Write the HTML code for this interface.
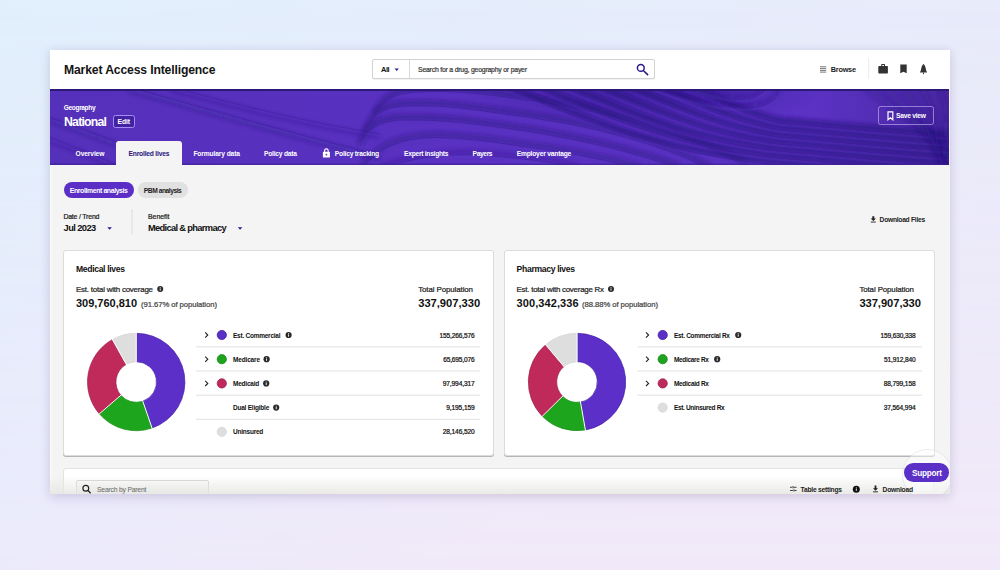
<!DOCTYPE html>
<html><head><meta charset="utf-8"><title>Market Access Intelligence</title>
<style>
html,body{margin:0;padding:0;}
body{width:1000px;height:570px;overflow:hidden;position:relative;font-family:"Liberation Sans",sans-serif;
 background:linear-gradient(to right,#e1effc,#e8ebfa);}
.bgb{position:absolute;left:0;top:0;width:1000px;height:570px;background:linear-gradient(to right,#ebeafb,#f1e9f9 50%,#f1e9f9);-webkit-mask-image:linear-gradient(to bottom,transparent,#000);mask-image:linear-gradient(to bottom,transparent,#000);}
.t{position:absolute;white-space:nowrap;font-family:"Liberation Sans",sans-serif;}
.a{position:absolute;box-sizing:border-box;}

</style></head><body>
<div class='bgb'></div>
<div class='a' style='left:50px;top:50px;width:900px;height:444px;background:#f4f4f4;box-shadow:0 4px 10px rgba(110,80,130,.16),0 0 8px rgba(90,100,150,.10);'></div>
<div class='a' style='left:50px;top:165px;width:3px;height:329px;background:linear-gradient(to right,#fbfbfc,#f4f4f4);'></div>
<div class='a' style='left:50px;top:50px;width:900px;height:39px;background:#fff;'></div>
<div class='a' style='left:372px;top:59px;width:282.5px;height:20px;border:1px solid #d2d2d2;border-radius:2px;background:#fff;box-shadow:0 1px 1px rgba(0,0,0,.06)'></div>
<div class='a' style='left:408.5px;top:60px;width:1px;height:18px;background:#dadada;'></div>
<svg class='a' style='left:0;top:0' width='1000' height='570' viewBox='0 0 1000 570'><path d='M394.6,68.6 L398.8,68.6 L396.7,71 Z' fill='#2b1a8c'/><circle cx='640.8' cy='67.9' r='3.4' fill='none' stroke='#2b1a8c' stroke-width='1.5'/><path d='M643.3,70.5 L647.6,74.6' stroke='#2b1a8c' stroke-width='1.6' stroke-linecap='round'/><g fill='#777'><rect x='820' y='66.3' width='6.2' height='1'/><rect x='820' y='68.1' width='6.2' height='1'/><rect x='820' y='69.9' width='6.2' height='1'/><rect x='820' y='71.6' width='6.2' height='1'/></g><rect x='868.2' y='58' width='1' height='21' fill='#ececec'/><g fill='#333'><rect x='878.3' y='66' width='9.6' height='7.5' rx='0.8'/><path d='M881.2,66 V64.6 Q881.2,64 881.8,64 H884.4 Q885,64 885,64.6 V66 H884 V65 H882.2 V66 Z'/></g><path d='M900.3,64.6 H906.7 V73.2 L903.5,71.8 L900.3,73.2 Z' fill='#333'/><path d='M923.5,64 Q922.5,64.5 921.6,67 L920.8,70.6 L919.9,72.6 H927.1 L926.2,70.6 L925.4,67 Q924.5,64.5 923.5,64 Z' fill='#333'/><rect x='923' y='72.6' width='1' height='1.6' fill='#333'/></svg>
<div class='a' style='left:50px;top:89px;width:899px;height:76px;background:#5a30c0;overflow:hidden;'><svg width='899' height='76' viewBox='0 0 899 76' style='position:absolute;left:0;top:0'><defs><linearGradient id='bg1' x1='0' y1='0' x2='1' y2='0'><stop offset='0' stop-color='#5530ba'/><stop offset='0.45' stop-color='#5a31c2'/><stop offset='0.85' stop-color='#5b32c4'/><stop offset='1' stop-color='#4a28a2'/></linearGradient><radialGradient id='bg2r'><stop offset='0' stop-color='#24107a' stop-opacity='.5'/><stop offset='1' stop-color='#2a1280' stop-opacity='0'/></radialGradient><filter id='bl1' x='-10%' y='-50%' width='120%' height='200%'><feGaussianBlur stdDeviation='0.8'/></filter><filter id='bl2' x='-10%' y='-50%' width='120%' height='200%'><feGaussianBlur stdDeviation='2'/></filter><filter id='bl3' x='-10%' y='-50%' width='120%' height='200%'><feGaussianBlur stdDeviation='3'/></filter></defs><rect width='899' height='76' fill='url(#bg1)'/><ellipse cx='590' cy='0' rx='190' ry='40' fill='url(#bg2r)'/><g fill='none'><path d='M79,-2 C150,18 240,44 330,66' stroke='#2a1280' stroke-width='5' stroke-opacity='0.38' filter='url(#bl2)' transform='translate(0,3)'/><path d='M79,-2 C150,18 240,44 330,66' stroke='#341a8c' stroke-width='0.9' stroke-opacity='0.55'/><path d='M79,-2 C150,18 240,44 330,66' stroke='#6a44d8' stroke-width='2' stroke-opacity='0.3' transform='translate(0,1.6)' filter='url(#bl1)'/><path d='M120,-2 C190,16 250,32 330,45' stroke='#2a1280' stroke-width='5' stroke-opacity='0.3' filter='url(#bl2)' transform='translate(0,3)'/><path d='M120,-2 C190,16 250,32 330,45' stroke='#341a8c' stroke-width='0.9' stroke-opacity='0.55'/><path d='M120,-2 C190,16 250,32 330,45' stroke='#6a44d8' stroke-width='2' stroke-opacity='0.3' transform='translate(0,1.6)' filter='url(#bl1)'/><path d='M-5,27 C40,42 90,62 135,80' stroke='#2a1280' stroke-width='5' stroke-opacity='0.35' filter='url(#bl2)' transform='translate(0,3)'/><path d='M-5,27 C40,42 90,62 135,80' stroke='#341a8c' stroke-width='0.9' stroke-opacity='0.55'/><path d='M-5,27 C40,42 90,62 135,80' stroke='#6a44d8' stroke-width='2' stroke-opacity='0.3' transform='translate(0,1.6)' filter='url(#bl1)'/><path d='M-5,47 C20,56 50,68 75,80' stroke='#2a1280' stroke-width='5' stroke-opacity='0.3' filter='url(#bl2)' transform='translate(0,3)'/><path d='M-5,47 C20,56 50,68 75,80' stroke='#341a8c' stroke-width='0.9' stroke-opacity='0.55'/><path d='M-5,47 C20,56 50,68 75,80' stroke='#6a44d8' stroke-width='2' stroke-opacity='0.3' transform='translate(0,1.6)' filter='url(#bl1)'/><path d='M325,27 C332,12 342,5 365,3 C400,1 430,4 470,10 C560,22 640,45 700,80' stroke='#2a1280' stroke-width='6' stroke-opacity='0.5' filter='url(#bl2)' transform='translate(0,-3)'/><path d='M325,27 C332,12 342,5 365,3 C400,1 430,4 470,10 C560,22 640,45 700,80' stroke='#341a8c' stroke-width='0.9' stroke-opacity='0.55'/><path d='M325,27 C332,12 342,5 365,3 C400,1 430,4 470,10 C560,22 640,45 700,80' stroke='#6a44d8' stroke-width='2' stroke-opacity='0.3' transform='translate(0,1.6)' filter='url(#bl1)'/><path d='M315,44 C322,28 330,18.5 355,17 C400,15 430,22 470,27 C550,38 610,55 660,80' stroke='#2a1280' stroke-width='6' stroke-opacity='0.5' filter='url(#bl2)' transform='translate(0,-3)'/><path d='M315,44 C322,28 330,18.5 355,17 C400,15 430,22 470,27 C550,38 610,55 660,80' stroke='#341a8c' stroke-width='0.9' stroke-opacity='0.55'/><path d='M315,44 C322,28 330,18.5 355,17 C400,15 430,22 470,27 C550,38 610,55 660,80' stroke='#6a44d8' stroke-width='2' stroke-opacity='0.3' transform='translate(0,1.6)' filter='url(#bl1)'/><path d='M310,58 C316,42 324,33 350,31 C400,30 430,36 470,41 C540,52 590,65 630,80' stroke='#2a1280' stroke-width='6' stroke-opacity='0.5' filter='url(#bl2)' transform='translate(0,-3)'/><path d='M310,58 C316,42 324,33 350,31 C400,30 430,36 470,41 C540,52 590,65 630,80' stroke='#341a8c' stroke-width='0.9' stroke-opacity='0.55'/><path d='M310,58 C316,42 324,33 350,31 C400,30 430,36 470,41 C540,52 590,65 630,80' stroke='#6a44d8' stroke-width='2' stroke-opacity='0.3' transform='translate(0,1.6)' filter='url(#bl1)'/><path d='M312,80 C330,58 350,48 390,48.5 C430,50 450,54 470,57 C520,63 560,72 590,80' stroke='#2a1280' stroke-width='6' stroke-opacity='0.45' filter='url(#bl2)' transform='translate(0,-3)'/><path d='M312,80 C330,58 350,48 390,48.5 C430,50 450,54 470,57 C520,63 560,72 590,80' stroke='#341a8c' stroke-width='0.9' stroke-opacity='0.55'/><path d='M312,80 C330,58 350,48 390,48.5 C430,50 450,54 470,57 C520,63 560,72 590,80' stroke='#6a44d8' stroke-width='2' stroke-opacity='0.3' transform='translate(0,1.6)' filter='url(#bl1)'/><path d='M330,80 C360,70 390,64 430,66 C480,70 510,74 530,80' stroke='#2a1280' stroke-width='5' stroke-opacity='0.3' filter='url(#bl2)' transform='translate(0,-3)'/><path d='M330,80 C360,70 390,64 430,66 C480,70 510,74 530,80' stroke='#341a8c' stroke-width='0.9' stroke-opacity='0.55'/><path d='M330,80 C360,70 390,64 430,66 C480,70 510,74 530,80' stroke='#6a44d8' stroke-width='2' stroke-opacity='0.3' transform='translate(0,1.6)' filter='url(#bl1)'/><path d='M450,-2 C500,14 590,64 730,76 C780,80 840,86 899,90' stroke='#2a1280' stroke-width='6' stroke-opacity='0.7' filter='url(#bl2)' transform='translate(0,-3)'/><path d='M450,-2 C500,14 590,64 730,76 C780,80 840,86 899,90' stroke='#341a8c' stroke-width='0.9' stroke-opacity='0.7'/><path d='M450,-2 C500,14 590,64 730,76 C780,80 840,86 899,90' stroke='#6a44d8' stroke-width='2' stroke-opacity='0.3' transform='translate(0,1.6)' filter='url(#bl1)'/><path d='M480,-2 C530,14 605,57 730,69 C780,73 840,79 899,83' stroke='#2a1280' stroke-width='6' stroke-opacity='0.7' filter='url(#bl2)' transform='translate(0,-3)'/><path d='M480,-2 C530,14 605,57 730,69 C780,73 840,79 899,83' stroke='#341a8c' stroke-width='0.9' stroke-opacity='0.7'/><path d='M480,-2 C530,14 605,57 730,69 C780,73 840,79 899,83' stroke='#6a44d8' stroke-width='2' stroke-opacity='0.3' transform='translate(0,1.6)' filter='url(#bl1)'/><path d='M510,-2 C560,14 620,50 730,62 C780,66 840,72 899,76' stroke='#2a1280' stroke-width='6' stroke-opacity='0.7' filter='url(#bl2)' transform='translate(0,-3)'/><path d='M510,-2 C560,14 620,50 730,62 C780,66 840,72 899,76' stroke='#341a8c' stroke-width='0.9' stroke-opacity='0.7'/><path d='M510,-2 C560,14 620,50 730,62 C780,66 840,72 899,76' stroke='#6a44d8' stroke-width='2' stroke-opacity='0.3' transform='translate(0,1.6)' filter='url(#bl1)'/><path d='M540,-2 C590,14 635,43 730,55 C780,59 840,65 899,69' stroke='#2a1280' stroke-width='6' stroke-opacity='0.7' filter='url(#bl2)' transform='translate(0,-3)'/><path d='M540,-2 C590,14 635,43 730,55 C780,59 840,65 899,69' stroke='#341a8c' stroke-width='0.9' stroke-opacity='0.7'/><path d='M540,-2 C590,14 635,43 730,55 C780,59 840,65 899,69' stroke='#6a44d8' stroke-width='2' stroke-opacity='0.3' transform='translate(0,1.6)' filter='url(#bl1)'/><path d='M570,-2 C620,14 650,36 730,48 C780,52 840,58 899,62' stroke='#2a1280' stroke-width='6' stroke-opacity='0.7' filter='url(#bl2)' transform='translate(0,-3)'/><path d='M570,-2 C620,14 650,36 730,48 C780,52 840,58 899,62' stroke='#341a8c' stroke-width='0.9' stroke-opacity='0.7'/><path d='M570,-2 C620,14 650,36 730,48 C780,52 840,58 899,62' stroke='#6a44d8' stroke-width='2' stroke-opacity='0.3' transform='translate(0,1.6)' filter='url(#bl1)'/><path d='M600,-2 C650,14 665,29 730,41 C780,45 840,51 899,55' stroke='#2a1280' stroke-width='6' stroke-opacity='0.7' filter='url(#bl2)' transform='translate(0,-3)'/><path d='M600,-2 C650,14 665,29 730,41 C780,45 840,51 899,55' stroke='#341a8c' stroke-width='0.9' stroke-opacity='0.7'/><path d='M600,-2 C650,14 665,29 730,41 C780,45 840,51 899,55' stroke='#6a44d8' stroke-width='2' stroke-opacity='0.3' transform='translate(0,1.6)' filter='url(#bl1)'/><path d='M630,-2 C680,14 680,22 730,34 C780,38 840,44 899,48' stroke='#2a1280' stroke-width='6' stroke-opacity='0.7' filter='url(#bl2)' transform='translate(0,-3)'/><path d='M630,-2 C680,14 680,22 730,34 C780,38 840,44 899,48' stroke='#341a8c' stroke-width='0.9' stroke-opacity='0.7'/><path d='M630,-2 C680,14 680,22 730,34 C780,38 840,44 899,48' stroke='#6a44d8' stroke-width='2' stroke-opacity='0.3' transform='translate(0,1.6)' filter='url(#bl1)'/><path d='M640,-2 C665,8 690,14 705,8 C712,5 716,1 718,-2' stroke='#2a1280' stroke-width='4' stroke-opacity='0.4' filter='url(#bl2)' transform='translate(0,-3)'/><path d='M640,-2 C665,8 690,14 705,8 C712,5 716,1 718,-2' stroke='#341a8c' stroke-width='0.9' stroke-opacity='0.55'/><path d='M640,-2 C665,8 690,14 705,8 C712,5 716,1 718,-2' stroke='#6a44d8' stroke-width='2' stroke-opacity='0.3' transform='translate(0,1.6)' filter='url(#bl1)'/><path d='M600,-2 C640,14 690,24 715,16 C725,12 730,5 732,-2' stroke='#2a1280' stroke-width='4' stroke-opacity='0.4' filter='url(#bl2)' transform='translate(0,-3)'/><path d='M600,-2 C640,14 690,24 715,16 C725,12 730,5 732,-2' stroke='#341a8c' stroke-width='0.9' stroke-opacity='0.55'/><path d='M600,-2 C640,14 690,24 715,16 C725,12 730,5 732,-2' stroke='#6a44d8' stroke-width='2' stroke-opacity='0.3' transform='translate(0,1.6)' filter='url(#bl1)'/><path d='M815,-2 C845,20 880,45 905,60' stroke='#2a1480' stroke-width='5' stroke-opacity='.4' filter='url(#bl3)'/><path d='M833,-2 C861,20 880,55 905,74' stroke='#2a1480' stroke-width='5' stroke-opacity='.4' filter='url(#bl3)'/><path d='M851,-2 C877,20 880,65 905,88' stroke='#2a1480' stroke-width='5' stroke-opacity='.4' filter='url(#bl3)'/><path d='M869,-2 C893,20 880,75 905,102' stroke='#2a1480' stroke-width='5' stroke-opacity='.4' filter='url(#bl3)'/><path d='M887,-2 C909,20 880,85 905,116' stroke='#2a1480' stroke-width='5' stroke-opacity='.4' filter='url(#bl3)'/></g><rect width='899' height='2' fill='#2c1877'/><rect y='74.5' width='899' height='1.5' fill='#3a2091' fill-opacity='.6'/></svg></div>
<div class='a' style='left:112.8px;top:115.3px;width:22.4px;height:12.4px;border:1.2px solid #a98cf3;border-radius:2.5px;background:#4321a3;'></div>
<div class='a' style='left:877.5px;top:106px;width:56.3px;height:18.8px;border:1px solid rgba(215,200,255,.55);border-radius:2.5px;'></div>
<svg class='a' style='left:887px;top:111px' width='7' height='10' viewBox='0 0 7 10'><path d='M1,0.8 H5.8 V8.8 L3.4,6.8 L1,8.8 Z' fill='none' stroke='#fff' stroke-width='1.2'/></svg>
<div class='a' style='left:116.4px;top:141px;width:65.2px;height:24.5px;background:#f4f4f4;border-radius:3px 3px 0 0;'></div>
<svg class='a' style='left:322px;top:148px' width='9' height='10' viewBox='0 0 9 10'><path d='M2.6,4 V2.8 Q2.6,0.9 4.4,0.9 Q6.2,0.9 6.2,2.8 V4' fill='none' stroke='#fff' stroke-width='1.1'/><rect x='0.9' y='3.8' width='7' height='5.8' rx='0.6' fill='#fff'/><circle cx='4.4' cy='6.6' r='0.9' fill='#5a30c0'/></svg>
<div class='a' style='left:63.5px;top:182px;width:70.5px;height:15.8px;background:#5b2fc6;border-radius:8px;'></div>
<div class='a' style='left:137.5px;top:182px;width:50.7px;height:15.8px;background:#e1e1e1;border-radius:8px;'></div>
<svg class='a' style='left:0;top:0' width='1000' height='570' viewBox='0 0 1000 570'><rect x='131.6' y='209' width='1' height='25' fill='#dcdcdc'/><path d='M107.3,227.2 L111.9,227.2 L109.6,229.8 Z' fill='#2b1a8c'/><path d='M237.8,227.2 L242.4,227.2 L240.1,229.8 Z' fill='#2b1a8c'/><g fill='#222'><path d='M872.3,216.2 H874.3 V218.6 H876 L873.3,221 L870.6,218.6 H872.3 Z'/><rect x='870.8' y='221.6' width='5' height='0.9'/></g></svg>
<div class='a' style='left:63px;top:250px;width:430.5px;height:206px;background:#fff;border:1px solid #dcdcdc;border-radius:3px;box-shadow:0 1px 0.6px rgba(0,0,0,.26);'></div>
<div class='a' style='left:504px;top:250px;width:430.5px;height:206px;background:#fff;border:1px solid #dcdcdc;border-radius:3px;box-shadow:0 1px 0.6px rgba(0,0,0,.26);'></div>
<div class='a' style='left:50px;top:50px;width:900px;height:444px;overflow:hidden;'><div class='a' style='left:13px;top:418px;width:871px;height:60px;background:#fff;border:1px solid #e3e3e3;border-radius:3px;'></div><div class='a' style='left:25.6px;top:430px;width:133px;height:30px;background:linear-gradient(#fdfdfd,#f0f0f0 60%);border:1px solid #d3d3d3;border-radius:2px;'></div><div class='a' style='left:0;top:426px;width:900px;height:18px;background:linear-gradient(rgba(235,235,232,0),rgba(230,230,226,.85));'></div></div>
<svg class='a' style='left:0;top:0' width='1000' height='570' viewBox='0 0 1000 570'><circle cx='160.2' cy='289' r='3.0' fill='#2a2a2a'/><rect x='159.75' y='288.40' width='0.9' height='2.2' fill='#fff'/><rect x='159.75' y='287.20' width='0.9' height='0.8' fill='#fff'/><circle cx='611' cy='289' r='3.0' fill='#2a2a2a'/><rect x='610.55' y='288.40' width='0.9' height='2.2' fill='#fff'/><rect x='610.55' y='287.20' width='0.9' height='0.8' fill='#fff'/><path d='M136.20,333.30 A48.7,48.7 0 0 1 152.03,428.06 L142.80,401.20 A20.3,20.3 0 0 0 136.20,361.70 Z' fill='#5b2fc8' stroke='#4220a8' stroke-width='0.7'/><path d='M152.03,428.06 A48.7,48.7 0 0 1 99.35,413.84 L120.84,395.27 A20.3,20.3 0 0 0 142.80,401.20 Z' fill='#1ea51e' stroke='#168c16' stroke-width='0.7'/><path d='M99.35,413.84 A48.7,48.7 0 0 1 112.45,339.49 L126.30,364.28 A20.3,20.3 0 0 0 120.84,395.27 Z' fill='#c02a5a' stroke='#a01f49' stroke-width='0.7'/><path d='M112.45,339.49 A48.7,48.7 0 0 1 136.20,333.30 L136.20,361.70 A20.3,20.3 0 0 0 126.30,364.28 Z' fill='#dedede' stroke='#d2d2d2' stroke-width='0.7'/><line x1='136.20' y1='363.00' x2='136.20' y2='332.00' stroke='#fff' stroke-width='1'/><line x1='142.37' y1='399.97' x2='152.45' y2='429.29' stroke='#fff' stroke-width='1'/><line x1='121.82' y1='394.42' x2='98.37' y2='414.69' stroke='#fff' stroke-width='1'/><line x1='126.93' y1='365.41' x2='111.81' y2='338.35' stroke='#fff' stroke-width='1'/><path d='M577.00,333.30 A48.7,48.7 0 0 1 585.40,429.97 L580.50,402.00 A20.3,20.3 0 0 0 577.00,361.70 Z' fill='#5b2fc8' stroke='#4220a8' stroke-width='0.7'/><path d='M585.40,429.97 A48.7,48.7 0 0 1 542.34,416.21 L562.55,396.26 A20.3,20.3 0 0 0 580.50,402.00 Z' fill='#1ea51e' stroke='#168c16' stroke-width='0.7'/><path d='M542.34,416.21 A48.7,48.7 0 0 1 545.68,344.71 L563.95,366.45 A20.3,20.3 0 0 0 562.55,396.26 Z' fill='#c02a5a' stroke='#a01f49' stroke-width='0.7'/><path d='M545.68,344.71 A48.7,48.7 0 0 1 577.00,333.30 L577.00,361.70 A20.3,20.3 0 0 0 563.95,366.45 Z' fill='#dedede' stroke='#d2d2d2' stroke-width='0.7'/><line x1='577.00' y1='363.00' x2='577.00' y2='332.00' stroke='#fff' stroke-width='1'/><line x1='580.28' y1='400.72' x2='585.62' y2='431.25' stroke='#fff' stroke-width='1'/><line x1='563.48' y1='395.35' x2='541.41' y2='417.12' stroke='#fff' stroke-width='1'/><line x1='564.78' y1='367.45' x2='544.85' y2='343.71' stroke='#fff' stroke-width='1'/><rect x='196' y='346.20' width='284' height='1.2' fill='#e6e6e6'/><rect x='196' y='370.40' width='284' height='1.2' fill='#e6e6e6'/><rect x='196' y='394.60' width='284' height='1.2' fill='#e6e6e6'/><rect x='196' y='418.80' width='284' height='1.2' fill='#e6e6e6'/><path d='M205.2,332.40 L207.8,335.00 L205.2,337.60' fill='none' stroke='#222' stroke-width='1.1'/><circle cx='221.8' cy='335.00' r='4.6' fill='#5b30c6' stroke='#40209f' stroke-width='0.8'/><circle cx='288.6' cy='335.0' r='3.1' fill='#2a2a2a'/><rect x='288.15' y='334.40' width='0.9' height='2.2' fill='#fff'/><rect x='288.15' y='333.20' width='0.9' height='0.8' fill='#fff'/><path d='M205.2,356.60 L207.8,359.20 L205.2,361.80' fill='none' stroke='#222' stroke-width='1.1'/><circle cx='221.8' cy='359.20' r='4.6' fill='#1fa31f' stroke='#178a17' stroke-width='0.8'/><circle cx='266.6' cy='359.2' r='3.1' fill='#2a2a2a'/><rect x='266.15' y='358.60' width='0.9' height='2.2' fill='#fff'/><rect x='266.15' y='357.40' width='0.9' height='0.8' fill='#fff'/><path d='M205.2,380.80 L207.8,383.40 L205.2,386.00' fill='none' stroke='#222' stroke-width='1.1'/><circle cx='221.8' cy='383.40' r='4.6' fill='#bf2a5a' stroke='#9c1f47' stroke-width='0.8'/><circle cx='266.2' cy='383.4' r='3.1' fill='#2a2a2a'/><rect x='265.75' y='382.80' width='0.9' height='2.2' fill='#fff'/><rect x='265.75' y='381.60' width='0.9' height='0.8' fill='#fff'/><circle cx='276.2' cy='407.6' r='3.1' fill='#2a2a2a'/><rect x='275.75' y='407.00' width='0.9' height='2.2' fill='#fff'/><rect x='275.75' y='405.80' width='0.9' height='0.8' fill='#fff'/><circle cx='221.8' cy='431.80' r='4.6' fill='#dedede' stroke='#d6d6d6' stroke-width='0.8'/><rect x='637.4' y='346.20' width='284.6' height='1.2' fill='#e6e6e6'/><rect x='637.4' y='370.40' width='284.6' height='1.2' fill='#e6e6e6'/><rect x='637.4' y='394.60' width='284.6' height='1.2' fill='#e6e6e6'/><path d='M646.0,332.40 L648.6,335.00 L646.0,337.60' fill='none' stroke='#222' stroke-width='1.1'/><circle cx='662.7' cy='335.00' r='4.6' fill='#5b30c6' stroke='#40209f' stroke-width='0.8'/><circle cx='738.2' cy='335.0' r='3.1' fill='#2a2a2a'/><rect x='737.75' y='334.40' width='0.9' height='2.2' fill='#fff'/><rect x='737.75' y='333.20' width='0.9' height='0.8' fill='#fff'/><path d='M646.0,356.60 L648.6,359.20 L646.0,361.80' fill='none' stroke='#222' stroke-width='1.1'/><circle cx='662.7' cy='359.20' r='4.6' fill='#1fa31f' stroke='#178a17' stroke-width='0.8'/><circle cx='717.2' cy='359.2' r='3.1' fill='#2a2a2a'/><rect x='716.75' y='358.60' width='0.9' height='2.2' fill='#fff'/><rect x='716.75' y='357.40' width='0.9' height='0.8' fill='#fff'/><path d='M646.0,380.80 L648.6,383.40 L646.0,386.00' fill='none' stroke='#222' stroke-width='1.1'/><circle cx='662.7' cy='383.40' r='4.6' fill='#bf2a5a' stroke='#9c1f47' stroke-width='0.8'/><circle cx='662.7' cy='407.60' r='4.6' fill='#dedede' stroke='#d6d6d6' stroke-width='0.8'/><g><circle cx='85.8' cy='488.2' r='2.9' fill='none' stroke='#222' stroke-width='1.2'/><path d='M87.8,490.3 L90.6,493.2' stroke='#222' stroke-width='1.3'/></g><g fill='#333'><rect x='790' y='486.8' width='2.2' height='0.9'/><rect x='793.6' y='486.8' width='3' height='0.9'/><rect x='790' y='490' width='3.2' height='0.9'/><rect x='794.6' y='490' width='2' height='0.9'/><rect x='792.6' y='486' width='0.9' height='2.4'/><rect x='793.6' y='489.2' width='0.9' height='2.4'/></g><circle cx='856.3' cy='489.2' r='3.5' fill='#111'/><rect x='855.85' y='488.60' width='0.9' height='2.2' fill='#fff'/><rect x='855.85' y='487.40' width='0.9' height='0.8' fill='#fff'/><g fill='#222'><path d='M874.6,485.4 H876.4 V488.2 H878 L875.5,490.8 L873,488.2 H874.6 Z'/><rect x='873' y='491.4' width='5' height='0.9'/></g></svg>
<div class='a' style='left:50px;top:50px;width:900px;height:444px;overflow:hidden;'><div class='a' style='left:852px;top:399px;width:51px;height:51px;border-radius:50%;background:rgba(255,255,255,.45);border:1px solid rgba(170,170,190,.22);'></div></div>
<div class='a' style='left:904px;top:463px;width:45.4px;height:18.6px;background:#5b30c6;border-radius:9.3px;'></div>
<div class='t' style='top:63.50px;font-size:12.2px;font-weight:700;color:#141414;line-height:12.2px;letter-spacing:-0.154px;left:64.00px;'>Market Access Intelligence</div>
<div class='t' style='top:66.40px;font-size:7.4px;font-weight:700;color:#111;line-height:7.4px;letter-spacing:-0.427px;left:381.00px;'>All</div>
<div class='t' style='top:67.40px;font-size:6.9px;font-weight:400;color:#3a3a3a;line-height:6.9px;letter-spacing:-0.217px;-webkit-text-stroke:0.22px #3a3a3a;left:418.00px;'>Search for a drug, geography or payer</div>
<div class='t' style='top:66.00px;font-size:7.3px;font-weight:700;color:#222;line-height:7.3px;letter-spacing:-0.232px;left:830.80px;'>Browse</div>
<div class='t' style='top:105.20px;font-size:6.6px;font-weight:700;color:#fff;line-height:6.6px;letter-spacing:-0.377px;left:63.80px;'>Geography</div>
<div class='t' style='top:116.00px;font-size:12.3px;font-weight:700;color:#fff;line-height:12.3px;letter-spacing:-0.788px;left:64.00px;'>National</div>
<div class='t' style='top:119.30px;font-size:6.8px;font-weight:700;color:#fff;line-height:6.8px;letter-spacing:-0.148px;left:117.60px;'>Edit</div>
<div class='t' style='top:151.20px;font-size:6.7px;font-weight:700;color:#fff;line-height:6.7px;letter-spacing:-0.136px;left:75.60px;'>Overview</div>
<div class='t' style='top:151.20px;font-size:6.7px;font-weight:700;color:#26137a;line-height:6.7px;letter-spacing:-0.208px;left:128.60px;'>Enrolled lives</div>
<div class='t' style='top:151.20px;font-size:6.7px;font-weight:700;color:#fff;line-height:6.7px;letter-spacing:-0.132px;left:193.40px;'>Formulary data</div>
<div class='t' style='top:151.20px;font-size:6.7px;font-weight:700;color:#fff;line-height:6.7px;letter-spacing:-0.231px;left:264.00px;'>Policy data</div>
<div class='t' style='top:151.20px;font-size:6.7px;font-weight:700;color:#fff;line-height:6.7px;letter-spacing:-0.227px;left:334.80px;'>Policy tracking</div>
<div class='t' style='top:151.20px;font-size:6.7px;font-weight:700;color:#fff;line-height:6.7px;letter-spacing:-0.272px;left:404.00px;'>Expert insights</div>
<div class='t' style='top:151.20px;font-size:6.7px;font-weight:700;color:#fff;line-height:6.7px;letter-spacing:-0.391px;left:472.60px;'>Payers</div>
<div class='t' style='top:151.20px;font-size:6.7px;font-weight:700;color:#fff;line-height:6.7px;letter-spacing:-0.201px;left:516.70px;'>Employer vantage</div>
<div class='t' style='top:113.00px;font-size:6.7px;font-weight:700;color:#fff;line-height:6.7px;letter-spacing:-0.248px;left:896.00px;'>Save view</div>
<div class='t' style='top:187.70px;font-size:6.9px;font-weight:700;color:#fff;line-height:6.9px;letter-spacing:-0.389px;left:69.80px;'>Enrollment analysis</div>
<div class='t' style='top:187.70px;font-size:6.7px;font-weight:700;color:#222;line-height:6.7px;letter-spacing:-0.466px;left:143.80px;'>PBM analysis</div>
<div class='t' style='top:214.00px;font-size:6.9px;font-weight:400;color:#222;line-height:6.9px;letter-spacing:-0.175px;-webkit-text-stroke:0.22px #222;left:63.40px;'>Date / Trend</div>
<div class='t' style='top:214.00px;font-size:6.9px;font-weight:400;color:#222;line-height:6.9px;letter-spacing:-0.009px;-webkit-text-stroke:0.22px #222;left:148.00px;'>Benefit</div>
<div class='t' style='top:224.20px;font-size:9.3px;font-weight:700;color:#111;line-height:9.3px;letter-spacing:-0.586px;left:63.60px;'>Jul 2023</div>
<div class='t' style='top:224.20px;font-size:9.3px;font-weight:700;color:#111;line-height:9.3px;letter-spacing:-0.665px;left:148.00px;'>Medical &amp; pharmacy</div>
<div class='t' style='top:216.80px;font-size:6.7px;font-weight:700;color:#222;line-height:6.7px;letter-spacing:-0.265px;left:879.60px;'>Download Files</div>
<div class='t' style='top:264.60px;font-size:8.6px;font-weight:700;color:#111;line-height:8.6px;letter-spacing:-0.336px;left:76.00px;'>Medical lives</div>
<div class='t' style='top:286.00px;font-size:7.9px;font-weight:400;color:#222;line-height:7.9px;letter-spacing:-0.199px;-webkit-text-stroke:0.22px #222;left:76.00px;'>Est. total with coverage</div>
<div class='t' style='top:297.60px;font-size:11.0px;font-weight:700;color:#111;line-height:11.0px;letter-spacing:-0.017px;left:76.00px;'>309,760,810</div>
<div class='t' style='top:300.60px;font-size:7.7px;font-weight:400;color:#444;line-height:7.7px;letter-spacing:-0.065px;-webkit-text-stroke:0.22px #444;left:141.00px;'>(91.67% of population)</div>
<div class='t' style='top:285.80px;font-size:7.9px;font-weight:400;color:#222;line-height:7.9px;letter-spacing:-0.090px;-webkit-text-stroke:0.22px #222;left:418.20px;'>Total Population</div>
<div class='t' style='top:297.50px;font-size:11.2px;font-weight:700;color:#111;line-height:11.2px;letter-spacing:-0.022px;left:418.20px;'>337,907,330</div>
<div class='t' style='top:264.60px;font-size:8.6px;font-weight:700;color:#111;line-height:8.6px;letter-spacing:-0.323px;left:516.60px;'>Pharmacy lives</div>
<div class='t' style='top:286.00px;font-size:7.9px;font-weight:400;color:#222;line-height:7.9px;letter-spacing:-0.232px;-webkit-text-stroke:0.22px #222;left:516.60px;'>Est. total with coverage Rx</div>
<div class='t' style='top:297.60px;font-size:11.0px;font-weight:700;color:#111;line-height:11.0px;letter-spacing:0.083px;left:516.60px;'>300,342,336</div>
<div class='t' style='top:300.60px;font-size:7.7px;font-weight:400;color:#444;line-height:7.7px;letter-spacing:-0.065px;-webkit-text-stroke:0.22px #444;left:582.00px;'>(88.88% of population)</div>
<div class='t' style='top:285.80px;font-size:7.9px;font-weight:400;color:#222;line-height:7.9px;letter-spacing:-0.104px;-webkit-text-stroke:0.22px #222;left:859.40px;'>Total Population</div>
<div class='t' style='top:297.50px;font-size:11.2px;font-weight:700;color:#111;line-height:11.2px;letter-spacing:-0.062px;left:859.40px;'>337,907,330</div>
<div class='t' style='top:332.50px;font-size:6.5px;font-weight:700;color:#111;line-height:6.5px;letter-spacing:-0.246px;left:233.00px;'>Est. Commercial</div>
<div class='t' style='top:332.50px;font-size:6.6px;font-weight:400;color:#111;line-height:6.6px;letter-spacing:-0.157px;-webkit-text-stroke:0.22px #111;right:525.46px;'>155,266,576</div>
<div class='t' style='top:356.70px;font-size:6.5px;font-weight:700;color:#111;line-height:6.5px;letter-spacing:-0.170px;left:233.00px;'>Medicare</div>
<div class='t' style='top:356.70px;font-size:6.6px;font-weight:400;color:#111;line-height:6.6px;letter-spacing:-0.168px;-webkit-text-stroke:0.22px #111;right:525.47px;'>65,695,076</div>
<div class='t' style='top:380.90px;font-size:6.5px;font-weight:700;color:#111;line-height:6.5px;letter-spacing:-0.216px;left:233.00px;'>Medicaid</div>
<div class='t' style='top:380.90px;font-size:6.6px;font-weight:400;color:#111;line-height:6.6px;letter-spacing:-0.113px;-webkit-text-stroke:0.22px #111;right:525.41px;'>97,994,317</div>
<div class='t' style='top:405.10px;font-size:6.5px;font-weight:700;color:#111;line-height:6.5px;letter-spacing:-0.226px;left:233.00px;'>Dual Eligible</div>
<div class='t' style='top:405.10px;font-size:6.6px;font-weight:400;color:#111;line-height:6.6px;letter-spacing:-0.105px;-webkit-text-stroke:0.22px #111;right:525.41px;'>9,195,159</div>
<div class='t' style='top:429.30px;font-size:6.5px;font-weight:700;color:#111;line-height:6.5px;letter-spacing:-0.232px;left:233.00px;'>Uninsured</div>
<div class='t' style='top:429.30px;font-size:6.6px;font-weight:400;color:#111;line-height:6.6px;letter-spacing:-0.113px;-webkit-text-stroke:0.22px #111;right:525.41px;'>28,146,520</div>
<div class='t' style='top:332.50px;font-size:6.5px;font-weight:700;color:#111;line-height:6.5px;letter-spacing:-0.292px;left:673.90px;'>Est. Commercial Rx</div>
<div class='t' style='top:332.50px;font-size:6.6px;font-weight:400;color:#111;line-height:6.6px;letter-spacing:-0.157px;-webkit-text-stroke:0.22px #111;right:84.56px;'>159,630,338</div>
<div class='t' style='top:356.70px;font-size:6.5px;font-weight:700;color:#111;line-height:6.5px;letter-spacing:-0.320px;left:673.90px;'>Medicare Rx</div>
<div class='t' style='top:356.70px;font-size:6.6px;font-weight:400;color:#111;line-height:6.6px;letter-spacing:-0.168px;-webkit-text-stroke:0.22px #111;right:84.57px;'>51,912,840</div>
<div class='t' style='top:380.90px;font-size:6.5px;font-weight:700;color:#111;line-height:6.5px;letter-spacing:-0.284px;left:673.90px;'>Medicaid Rx</div>
<div class='t' style='top:380.90px;font-size:6.6px;font-weight:400;color:#111;line-height:6.6px;letter-spacing:-0.113px;-webkit-text-stroke:0.22px #111;right:84.51px;'>88,799,158</div>
<div class='t' style='top:405.10px;font-size:6.5px;font-weight:700;color:#111;line-height:6.5px;letter-spacing:-0.324px;left:673.90px;'>Est. Uninsured Rx</div>
<div class='t' style='top:405.10px;font-size:6.6px;font-weight:400;color:#111;line-height:6.6px;letter-spacing:-0.113px;-webkit-text-stroke:0.22px #111;right:84.51px;'>37,564,994</div>
<div class='t' style='top:486.60px;font-size:6.8px;font-weight:400;color:#666;line-height:6.8px;letter-spacing:-0.209px;left:97.00px;'>Search by Parent</div>
<div class='t' style='top:486.80px;font-size:6.7px;font-weight:700;color:#222;line-height:6.7px;letter-spacing:-0.236px;left:800.60px;'>Table settings</div>
<div class='t' style='top:486.80px;font-size:6.7px;font-weight:700;color:#222;line-height:6.7px;letter-spacing:-0.222px;left:882.60px;'>Download</div>
<div class='t' style='top:470.20px;font-size:8.2px;font-weight:700;color:#fff;line-height:8.2px;letter-spacing:-0.232px;left:912.00px;'>Support</div>
</body></html>
